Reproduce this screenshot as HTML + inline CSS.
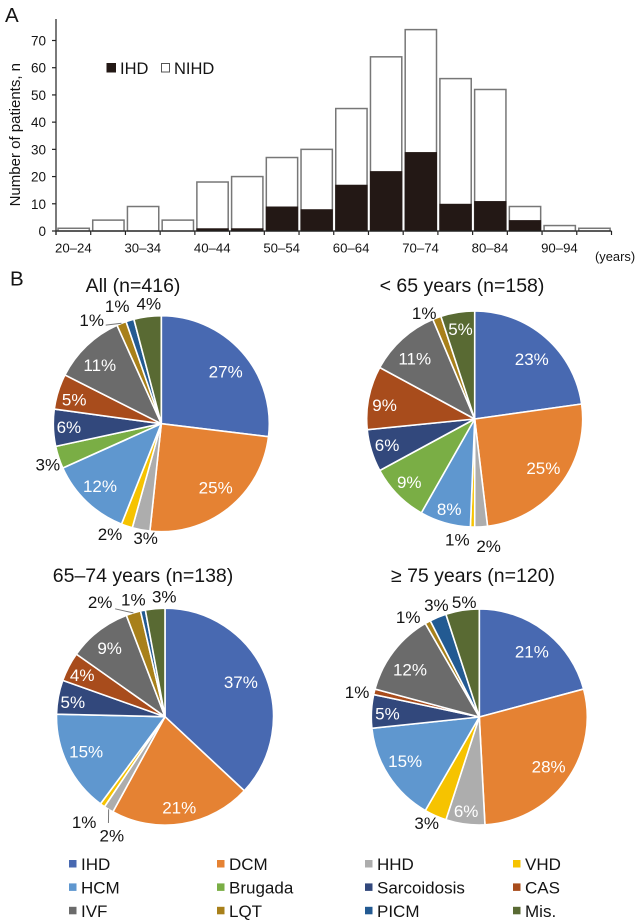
<!DOCTYPE html>
<html lang="en">
<head>
<meta charset="utf-8">
<title>Age distribution and pie charts of patient aetiology</title>
<style>
html,body{margin:0;padding:0;background:#fff;}
svg{display:block;font-family:"Liberation Sans",Arial,sans-serif;}
text{fill:#141414;}
</style>
</head>
<body>
<svg id="figure" xmlns="http://www.w3.org/2000/svg" width="637" height="920" viewBox="0 0 637 920">
  <text x="5" y="22" font-size="20.5">A</text>
  <text x="10" y="285.5" font-size="20.5">B</text>
  <g id="bar-chart"></g>
  <g id="pies"></g>
  <g id="legend"></g>
</svg>
<script>
// ---- Panel A data ----
const ageBins = ["20–24","25–29","30–34","35–39","40–44","45–49","50–54","55–59","60–64","65–69","70–74","75–79","80–84","85–89","90–94","95–99"];
const ihdCounts = [0,0,0,0,1,1,9,8,17,22,29,10,11,4,0,0];
const nihdCounts = [1,4,9,4,17,19,18,22,28,42,45,46,41,5,2,1];
const yTicks = [0,10,20,30,40,50,60,70];

// ---- Panel B data: patient counts (slice sizes) and printed percentages ----
const diagnoses = ["IHD","DCM","HHD","VHD","HCM","Brugada","Sarcoidosis","CAS","IVF","LQT","PICM","Mis."];
const countsAll = [112,103,11,7,51,14,23,22,45,6,5,17];
const countsUnder65 = [36,40,3,1,12,14,10,15,17,2,0,8];
const counts65to74 = [51,29,2,1,21,0,7,6,13,3,1,4];
const countsOver75 = [25,34,7,4,18,0,6,1,15,1,3,6];
const printedAll = [27,25,3,2,12,3,6,5,11,1,1,4];
const printedUnder65 = [23,25,2,1,8,9,6,9,11,1,0,5];
const printed65to74 = [37,21,2,1,15,0,5,4,9,2,1,3];
const printedOver75 = [21,28,6,3,15,0,5,1,12,1,3,5];

// ---- Styling / layout (not data) ----
const diagnosisColors = ["#4869b1","#e58233","#adadad","#f6c300","#5f97cf","#7aae45","#32487c","#a84c1c","#6b6b6b","#a8801a","#235a92","#596a33"];
const SVG_NS = "http://www.w3.org/2000/svg";
const plot = {left:56, right:611.5, base:231, top:19, unit:(231-40.5)/70};
const xEdge = i => plot.left + (plot.right-plot.left)*i/ageBins.length;
const yVal = v => plot.base - v*plot.unit;

function make(tag, attrs, parent, txt){
  const el = document.createElementNS(SVG_NS, tag);
  for (const k in attrs) el.setAttribute(k, attrs[k]);
  if (txt !== undefined) el.textContent = txt;
  parent.appendChild(el);
  return el;
}

// ---- Histogram ----
const barG = document.getElementById("bar-chart");
ageBins.forEach((bin,i)=>{
  const total = ihdCounts[i]+nihdCounts[i];
  const x = xEdge(i)+2, w = xEdge(i+1)-xEdge(i)-3.4;
  const nb = make("rect",{x:x,y:yVal(total),width:w,height:yVal(0)-yVal(total),fill:"#fff",stroke:"#777","stroke-width":1.5},barG);
  
  
  if (ihdCounts[i]>0){
    const ib = make("rect",{x:x-0.5,y:yVal(ihdCounts[i]),width:w+1,height:yVal(0)-yVal(ihdCounts[i]),fill:"#231815"},barG);
    
    
  }
});
const yAxis = make("line",{x1:plot.left,x2:plot.left,y1:plot.top,y2:plot.base+4,stroke:"#222","stroke-width":1.2},barG);


const xAxis = make("line",{x1:plot.left,x2:plot.right,y1:plot.base,y2:plot.base,stroke:"#222","stroke-width":1.2},barG);


yTicks.forEach(v=>{
  const t = make("line",{x1:plot.left-4,x2:plot.left,y1:yVal(v),y2:yVal(v),stroke:"#222","stroke-width":1.2},barG);
  
  
  const l = make("text",{x:46,y:yVal(v)+5,"font-size":13.5,"text-anchor":"end"},barG,String(v));
  
  
});
for (let i=0;i<=ageBins.length;i++){
  const t = make("line",{x1:xEdge(i),x2:xEdge(i),y1:plot.base,y2:plot.base+4,stroke:"#222","stroke-width":1.2},barG);
  
  
}
ageBins.forEach((bin,i)=>{
  if (i%2===0){
    const l = make("text",{x:(xEdge(i)+xEdge(i+1))/2,y:252.5,"font-size":13.2,"text-anchor":"middle"},barG,bin);
    
    
  }
});
const yTitle = make("text",{transform:"translate(20 134.7) rotate(-90)","font-size":15,"text-anchor":"middle"},barG,"Number of patients, n");


const xUnit = make("text",{x:595,y:261,"font-size":12.9},barG,"(years)");



const lgIhd = make("rect",{x:106.5,y:63,width:9.5,height:9.5,fill:"#231815"},barG);


const lgIhdT = make("text",{x:120,y:74,"font-size":16.5},barG,"IHD");


const lgN = make("rect",{x:161.5,y:63.5,width:8,height:8.5,fill:"#fff",stroke:"#555","stroke-width":1},barG);


const lgNT = make("text",{x:174,y:74,"font-size":16.5},barG,"NIHD");



// ---- Pies ----
// Label nudges (layout only) relative to a ring anchor at each slice's mid-angle.
const nudgesAll = [[9,-3],[8.3,6.1],[-1.8,41.5],[-27.7,40],[-10.2,8.6],[-43.2,17.8],[-18.5,0.7],[-16.5,-2.3],[-10.4,-5.4],[-42.3,-34.8],[-22.6,-46.8],[-3,-47]];
const nudgesUnder65 = [[8.5,-4],[10,4],[9.5,53],[-15.9,46.5],[-5.2,18.6],[-12.6,11],[-16.9,4.1],[-17.6,0.4],[-10.3,-5.6],[-24.6,-36.8],[0,0],[-2.5,-17]];
const nudges65to74 = [[8,-5],[2.5,17.5],[-14.7,55.8],[-38.2,45],[-12.4,2.3],[0,0],[-19.4,-1.2],[-17.1,-7.6],[-10,-10],[-43.3,-44.1],[-16.6,-44.8],[6,-46.5]];
const nudgesOver75 = [[7.5,-7],[9.5,6],[-3.5,20.5],[-22.5,38.5],[-12.1,3.8],[0,0],[-18,0.5],[-50.3,-7.9],[-10.6,-2.4],[-35.8,-35.1],[-14.6,-43.5],[-3.5,-42]];
const darkLabels = {
  all:[2,3,5,9,10,11],
  under65:[2,3,9],
  mid:[2,3,9,10,11],
  over75:[3,7,9,10,11]
};
const pieDefs = [
  {key:"all",name:"pie-all",title:"All (n=416)",tx:133,ty:292,cx:161.3,cy:423.7,r:108,counts:countsAll,printed:printedAll,nudges:nudgesAll,leaders:[[9,14,5]]},
  {key:"under65",name:"pie-under-65",title:"< 65 years (n=158)",tx:462,ty:292,cx:474.7,cy:419,r:108,counts:countsUnder65,printed:printedUnder65,nudges:nudgesUnder65,leaders:[]},
  {key:"mid",name:"pie-65-74",title:"65–74 years (n=138)",tx:143,ty:582,cx:165,cy:716.7,r:108.5,counts:counts65to74,printed:printed65to74,nudges:nudges65to74,leaders:[[9,15,7],[2,-3.4,-12.7]]},
  {key:"over75",name:"pie-over-75",title:"≥ 75 years (n=120)",tx:473,ty:582,cx:479.3,cy:717,r:108,counts:countsOver75,printed:printedOver75,nudges:nudgesOver75,leaders:[]}
];
const LABEL_RING = 74;
const piesG = document.getElementById("pies");

pieDefs.forEach(p=>{
  const g = make("g",{},piesG);
  
  
  const title = make("text",{x:p.tx,y:p.ty,"font-size":19.5,"text-anchor":"middle"},g,p.title);
  
  
  const total = p.counts.reduce((a,b)=>a+b,0);
  const pt = (deg,rad)=>{
    const t = deg*Math.PI/180;
    return [p.cx+rad*Math.sin(t), p.cy-rad*Math.cos(t)];
  };
  let cum = 0;
  const labels = [];
  p.counts.forEach((v,i)=>{
    if (v<=0) return;
    const a0 = cum/total*360, a1 = (cum+v)/total*360;
    cum += v;
    const s = pt(a0,p.r), e = pt(a1,p.r);
    const large = (a1-a0)>180?1:0;
    const d = `M${p.cx} ${p.cy}L${s[0]} ${s[1]}A${p.r} ${p.r} 0 ${large} 1 ${e[0]} ${e[1]}Z`;
    const slice = make("path",{d:d,fill:diagnosisColors[i],stroke:"#fff","stroke-width":1.6,"stroke-linejoin":"round"},g);
    
    
    const mid = (a0+a1)/2;
    const anc = pt(mid,LABEL_RING);
    const n = p.nudges[i];
    labels.push({i:i,v:p.printed[i],x:anc[0]+n[0],y:anc[1]+n[1],edge:pt(mid,p.r)});
  });
  labels.forEach(l=>{
    const dark = darkLabels[p.key].includes(l.i);
    const leader = p.leaders.find(q=>q[0]===l.i);
    if (leader){
      const ln = make("line",{x1:l.edge[0],y1:l.edge[1],x2:l.x+leader[1],y2:l.y+leader[2],stroke:"#777","stroke-width":1},g);
      
      
    }
    const t = make("text",{x:l.x,y:l.y+6,"font-size":17,"text-anchor":"middle",style:"fill:"+(dark?"#141414":"#fff")},g,l.v+"%");
    
    
  });
});

// ---- Diagnosis legend ----
const legendG = document.getElementById("legend");
diagnoses.forEach((name,i)=>{
  const col = i%4, row = Math.floor(i/4);
  const sx = 69+col*148, cy = 864+row*23.4;
  const swatch = make("rect",{x:sx,y:cy-4,width:7.5,height:7.5,fill:diagnosisColors[i]},legendG);
  
  
  const label = make("text",{x:sx+12,y:cy+6,"font-size":17},legendG,name);
  
  
});
</script>
</body>
</html>
